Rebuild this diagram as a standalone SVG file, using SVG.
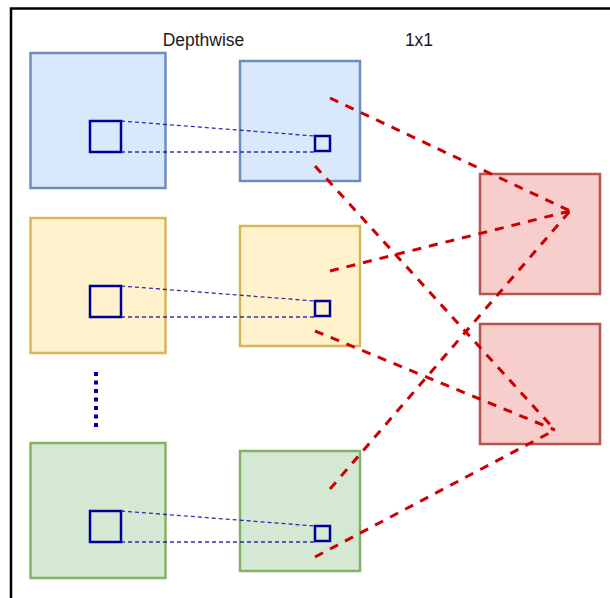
<svg xmlns="http://www.w3.org/2000/svg" width="610" height="598" viewBox="0 0 610 598">
<style>
.lbl{font-family:"Liberation Sans",Arial,sans-serif;font-size:17.5px;fill:#1a1a1a;text-anchor:middle}
.blue{fill:#dae8fc;stroke:#6c8ebf;stroke-width:2.5}
.yellow{fill:#fff2cc;stroke:#d6b656;stroke-width:2.5}
.green{fill:#d5e8d4;stroke:#82b366;stroke-width:2.5}
.red{fill:#f8cecc;stroke:#b85450;stroke-width:2.5}
.k{fill:none;stroke:#000099;stroke-width:2.5}
.dot{fill:none;stroke:#000099;stroke-width:1.3;stroke-dasharray:4 3;opacity:0.8}
.rl{fill:none;stroke:#cc0000;stroke-width:3;stroke-dasharray:9 8}
</style>
<rect width="610" height="598" fill="#ffffff"/>
<path d="M11 598 V8.5 H610" fill="none" stroke="#000000" stroke-width="2.5"/>
<text class="lbl" x="203.5" y="45.5">Depthwise</text>
<text class="lbl" x="419" y="45.5">1x1</text>
<g id="in-blue"><rect class="blue" x="30.5" y="53" width="135" height="135"/><rect class="k" x="90" y="121" width="31" height="31"/></g>
<g id="in-yellow"><rect class="yellow" x="30.5" y="218" width="135" height="135"/><rect class="k" x="90" y="286" width="31" height="31"/></g>
<g id="in-green"><rect class="green" x="30.5" y="443" width="135" height="135"/><rect class="k" x="90" y="511" width="31" height="31"/></g>
<g id="dw-blue"><rect class="blue" x="240" y="61" width="120" height="120"/><rect class="k" x="315" y="136" width="15" height="15"/></g>
<g id="dw-yellow"><rect class="yellow" x="240" y="226" width="120" height="120"/><rect class="k" x="315" y="301" width="15" height="15"/></g>
<g id="dw-green"><rect class="green" x="240" y="451" width="120" height="120"/><rect class="k" x="315" y="526" width="15" height="15"/></g>
<g id="pw-1"><rect class="red" x="480" y="174" width="120" height="120"/></g>
<g id="pw-2"><rect class="red" x="480" y="324" width="120" height="120"/></g>
<g id="connectors">
<path class="dot" d="M121 121 L315 136 M121 152 H315"/>
<path class="dot" d="M121 286 L315 301 M121 317 H315"/>
<path class="dot" d="M121 511 L315 526 M121 542 H315"/>
<path d="M96 372 V428" fill="none" stroke="#000099" stroke-width="4" stroke-dasharray="4 4.5"/>
<path class="rl" d="M330 98 L570 211"/>
<path class="rl" d="M315 166 L555 430"/>
<path class="rl" d="M330 271 L570 211"/>
<path class="rl" d="M315 331 L555 430"/>
<path class="rl" d="M330 489 L570 211"/>
<path class="rl" d="M315 557 L555 430"/>
</g>
</svg>
